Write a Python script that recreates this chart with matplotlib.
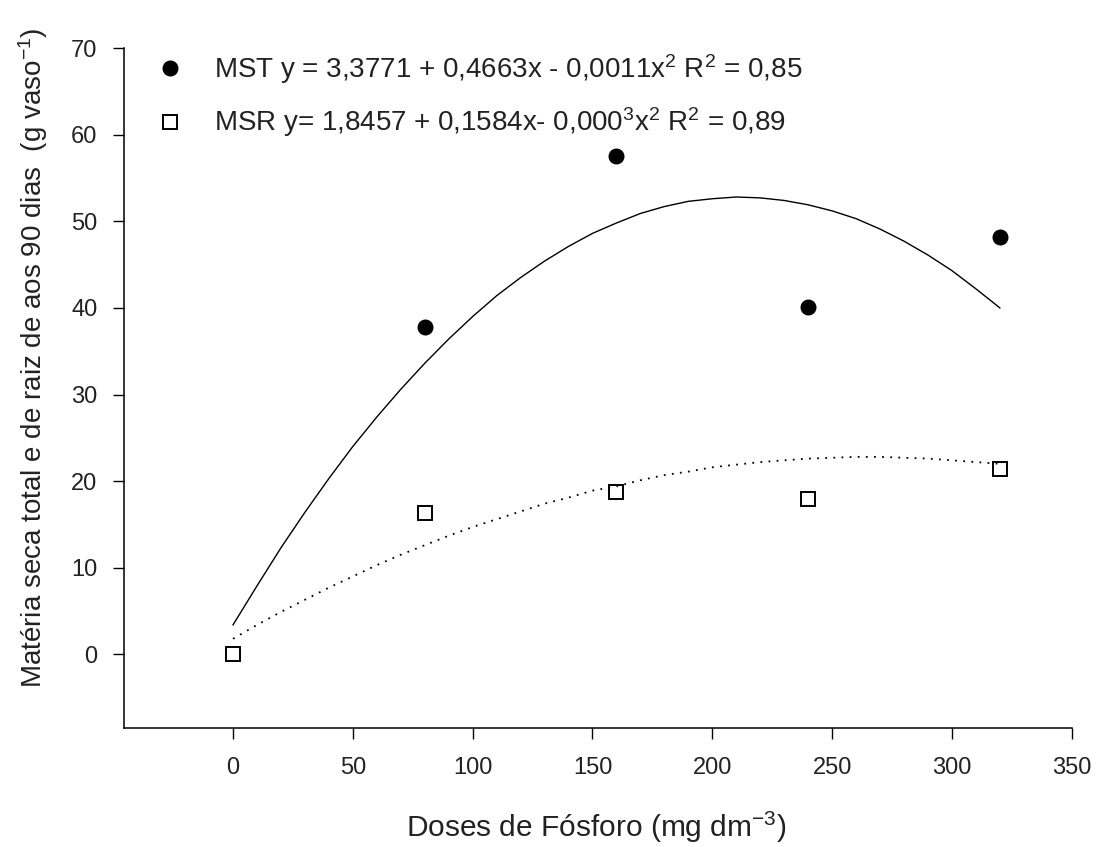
import matplotlib
matplotlib.use("Agg")
import matplotlib.pyplot as plt

# observed means
doses = [0, 80, 160, 240, 320]
mst = [None, 37.8, 57.5, 40.1, 48.2]
msr = [0.1, 16.3, 18.8, 17.9, 21.4]

# fitted curves, every 10 mg
curve_x = [0, 10, 20, 30, 40, 50, 60, 70, 80, 90, 100, 110, 120, 130, 140, 150, 160,
           170, 180, 190, 200, 210, 220, 230, 240, 250, 260, 270, 280, 290, 300, 310, 320]
mst_fit = [3.4, 7.9, 12.3, 16.4, 20.3, 24.0, 27.4, 30.6, 33.6, 36.4, 39.0, 41.4, 43.5,
           45.4, 47.1, 48.6, 49.8, 50.9, 51.7, 52.3, 52.6, 52.8, 52.7, 52.4, 51.9, 51.2,
           50.3, 49.1, 47.7, 46.1, 44.3, 42.2, 40.0]
msr_fit = [1.8, 3.4, 4.9, 6.3, 7.7, 9.0, 10.3, 11.5, 12.6, 13.7, 14.7, 15.6, 16.5,
           17.4, 18.1, 18.9, 19.4, 20.1, 20.7, 21.1, 21.6, 21.9, 22.2, 22.4, 22.6, 22.7,
           22.8, 22.8, 22.7, 22.6, 22.4, 22.2, 22.0]

x_ticks = [0, 50, 100, 150, 200, 250, 300, 350]
y_ticks = [0, 10, 20, 30, 40, 50, 60, 70]

lbl_mst = r"MST y = 3,3771 + 0,4663x - 0,0011x$^2$ R$^2$ = 0,85"
lbl_msr = r"MSR y= 1,8457 + 0,1584x- 0,000$^3$x$^2$ R$^2$ = 0,89"

plt.rcParams["font.family"] = ["Liberation Sans", "DejaVu Sans"]
plt.rcParams["mathtext.fontset"] = "custom"
plt.rcParams["mathtext.rm"] = "Liberation Sans"
plt.rcParams["mathtext.default"] = "regular"

txt = "#222222"

fig = plt.figure(figsize=(10.97, 8.47), dpi=100)
ax = fig.add_axes([0.113, 0.1405, 0.864, 0.8028])

ax.plot(curve_x, mst_fit, color="black", lw=1.0, zorder=2)
ax.plot(curve_x, msr_fit, color="black", lw=1.3, linestyle=(0, (1, 3.5)), zorder=3)

h1, = ax.plot(doses[1:], mst[1:], "o", color="black", ms=10.5, ls="none", zorder=4)
h2, = ax.plot(doses, msr, "s", mfc="none", mec="black", mew=1.4, ms=10.5, ls="none", zorder=2)

ax.set_xlim(-45.5, 350)
ax.set_ylim(-8.5, 70)
ax.set_xticks(x_ticks)
ax.set_yticks(y_ticks)

for s in ["top", "right"]:
    ax.spines[s].set_visible(False)
for s in ["left", "bottom"]:
    ax.spines[s].set_linewidth(1.1)
ax.tick_params(direction="out", length=8, width=1.0, labelsize=17, colors="black",
               labelcolor=txt)
ax.tick_params(axis="x", pad=13)
ax.tick_params(axis="y", pad=11)

ax.set_xlabel(r"Doses de Fósforo (mg dm$^{-3}$)", fontsize=21.5, color=txt)
ax.xaxis.set_label_coords(0.498, -0.12)
ax.set_ylabel(r"Matéria seca total e de raiz de aos 90 dias  (g vaso$^{-1}$)", fontsize=20, color=txt)
ax.yaxis.set_label_coords(-0.078, 0.545)

ax.legend([h1, h2], [lbl_mst, lbl_msr], loc="upper left", bbox_to_anchor=(0.022, 1.01),
          frameon=False, fontsize=20, labelcolor=txt, handletextpad=1.1,
          labelspacing=0.7, handlelength=1.0, borderaxespad=0)

fig.savefig("out.png", dpi=100)
